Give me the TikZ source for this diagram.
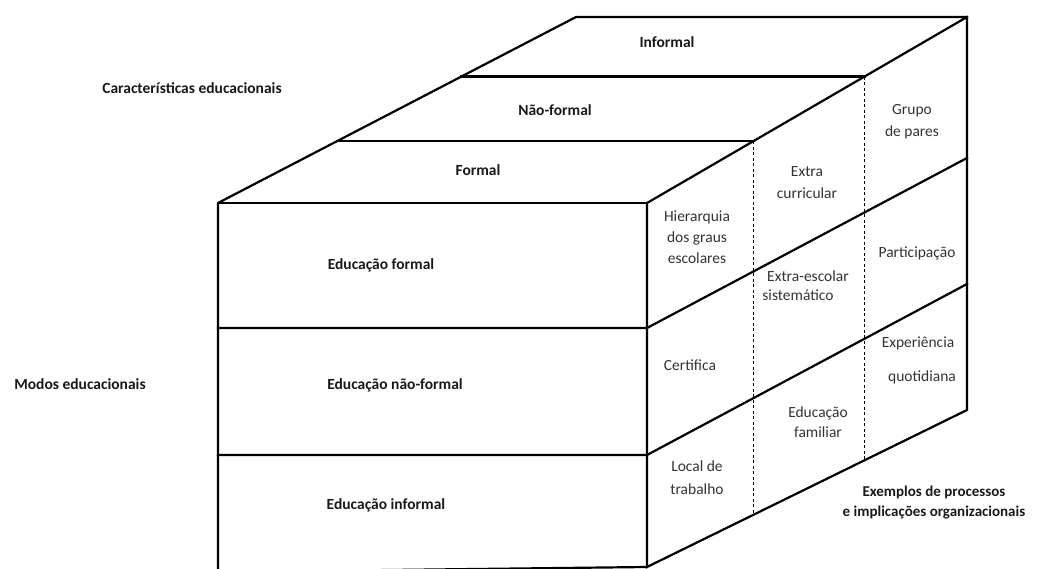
\documentclass[tikz,border=0pt]{standalone}
\usepackage{fontspec}
\setmainfont{Carlito}
\usetikzlibrary{calc}
\begin{document}
\begin{tikzpicture}[x=1pt,y=-1pt,
  edge/.style={line width=2.2pt, line join=miter, line cap=rect},
  dashline/.style={line width=0.8pt, dash pattern=on 3pt off 2.5pt},
  lbl/.style={font=\fontsize{15.5}{18}\selectfont\bfseries, inner sep=0pt, text=black!90},
  sidetxt/.style={font=\fontsize{15.5}{21}\selectfont, align=center, inner sep=0pt, text=black!80}]
\useasboundingbox (0,0) rectangle (1037,569);
% corners
\coordinate (FTL) at (218,203);
\coordinate (FTR) at (647,203);
\coordinate (BTL) at (576,17);
\coordinate (BTR) at (967,17);
\coordinate (FBL) at (218,572);
\coordinate (FBR) at (647,567);
\coordinate (BBR) at (967,410);
\coordinate (FM1L) at (218,328);
\coordinate (FM1R) at (647,328);
\coordinate (FM2L) at (218,455);
\coordinate (FM2R) at (647,455);
\coordinate (BM1) at (967,158);
\coordinate (BM2) at (967,284);
% top dividers
\coordinate (TD1L) at ($(FTL)!0.333!(BTL)$);
\coordinate (TD1R) at ($(FTR)!0.333!(BTR)$);
\coordinate (TD2L) at ($(FTL)!0.68!(BTL)$);
\coordinate (TD2R) at ($(FTR)!0.68!(BTR)$);
\coordinate (BD1) at ($(FBR)!0.333!(BBR)$);
\coordinate (BD2) at ($(FBR)!0.68!(BBR)$);
% dashed verticals
\draw[dashline] (TD1R) -- (BD1);
\draw[dashline] (TD2R) -- (BD2);
% solid edges
\draw[edge] (FBL) -- (FTL) -- (BTL) -- (BTR) -- (BBR) -- (FBR) -- (FTR) -- (BTR);
\draw[edge] (FTL) -- (FTR);
\draw[edge] (FBL) -- (FBR);
\draw[edge] (FM1L) -- (FM1R) -- (BM1);
\draw[edge] (FM2L) -- (FM2R) -- (BM2);
\draw[edge] (TD1L) -- (TD1R);
\draw[edge] (TD2L) -- (TD2R);
% labels
\node[lbl] (car) at (192,88) {Características educacionais};
\node[lbl] (mod) at (80,384) {Modos educacionais};
\node[lbl] (inf) at (667,42) {Informal};
\node[lbl] (nf) at (555,110) {Não-formal};
\node[lbl] (for) at (478,170) {Formal};
\node[lbl] (ef) at (381,265) {Educação formal};
\node[lbl] (enf) at (395,385) {Educação não-formal};
\node[lbl] (ei) at (386,505) {Educação informal};
\node[lbl, align=center, font=\fontsize{15}{20}\selectfont\bfseries] (ex) at (934,503) {Exemplos de processos\\e implicações organizacionais};
\node[sidetxt] (hier) at (697,237) {Hierarquia\\dos graus\\escolares};
\node[sidetxt, font=\fontsize{15.5}{22}\selectfont] (extc) at (807,183) {Extra\\curricular};
\node[sidetxt, font=\fontsize{15.5}{22}\selectfont] (grp) at (912,122) {Grupo\\de pares};
\node[sidetxt] (part) at (917,253) {Participação};
\node[sidetxt] (exe) at (808,276) {Extra-escolar};
\node[sidetxt] (sist) at (798,295) {sistemático};
\node[sidetxt] (exp) at (918,343) {Experiência};
\node[sidetxt] (quot) at (922,377) {quotidiana};
\node[sidetxt] (cert) at (690,365) {Certifica};
\node[sidetxt, font=\fontsize{15.5}{20}\selectfont] (fam) at (818,422) {Educação\\familiar};
\node[sidetxt, font=\fontsize{15.5}{23}\selectfont] (loc) at (697,478) {Local de\\trabalho};
\end{tikzpicture}
\end{document}
